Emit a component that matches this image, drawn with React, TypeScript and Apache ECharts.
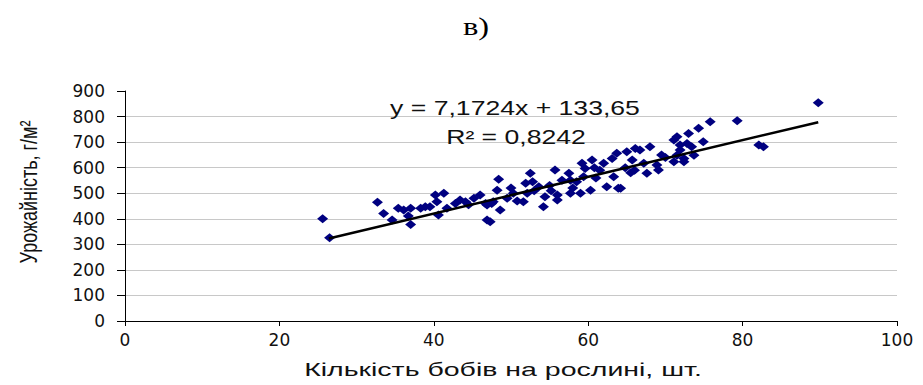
import React, { useEffect, useRef } from "react";
import * as echarts from "echarts";

// Beans per plant (x) and yield, g/m² (y)
const beansPerPlant = [
  25.6, 26.5, 32.7, 33.5, 34.6, 35.4, 36.1, 37.0, 36.7, 37.0,
  38.3, 38.9, 39.5, 40.2, 41.3, 40.4, 40.6, 41.7, 42.8, 43.4,
  44.1, 45.2, 46.0, 46.7, 46.9, 47.5, 48.2, 48.4, 46.9, 47.3,
  47.7, 48.6, 52.5, 51.9, 52.1, 51.6, 50.3, 53.6, 54.4, 54.2,
  55.7, 56.6, 57.5, 58.5, 59.0, 59.6, 59.2, 57.7, 56.0, 60.5,
  59.4, 60.3, 62.0, 63.1, 63.7, 63.3, 62.4, 63.9, 65.0, 65.7,
  66.7, 68.0, 67.6, 68.9, 69.1, 71.1, 71.5, 67.2, 71.5, 71.9,
  73.0, 74.3, 75.8, 79.3, 71.9, 72.8, 73.4, 74.9, 73.7, 71.1,
  72.4, 72.4, 82.1, 89.8, 82.7, 66.1, 64.2, 57.7, 56.0, 49.5,
  50.8, 53.0, 55.0, 58.0, 61.0, 61.5, 64.8, 66.0, 70.0, 44.5,
  50.0, 52.8, 55.2, 60.8, 65.5, 69.5,
];
const yieldValues = [
  400, 326, 465, 421, 395, 441, 434, 441, 411, 378,
  441, 447, 447, 493, 500, 467, 415, 441, 460, 473,
  467, 480, 493, 460, 395, 460, 512, 555, 454, 388,
  467, 434, 578, 539, 500, 467, 500, 525, 486, 447,
  591, 551, 578, 545, 500, 597, 617, 500, 473, 630,
  564, 512, 617, 636, 656, 564, 525, 519, 662, 630,
  669, 682, 578, 610, 591, 708, 649, 617, 721, 689,
  734, 754, 780, 784, 669, 695, 682, 701, 649, 623,
  623, 636, 689, 854, 682, 675, 519, 551, 493, 480,
  470, 510, 530, 520, 560, 590, 600, 590, 640, 455,
  520, 545, 510, 600, 580, 650,
];
// Linear trend line end points (as drawn)
const trendX = [26.4, 89.8];
const trendY = [323, 778];
const xTicks = { min: 0, max: 100, interval: 20 };
const yTicks = { min: 0, max: 900, interval: 100 };

const equationText = "y = 7,1724x + 133,65";
const r2Text = "R² = 0,8242";
const panelLabel = "в)";
const xTitle = "Кількість бобів на рослині, шт.";
const yTitle = "Урожайність, г/м²";

export default function App() {
  const ref = useRef<HTMLDivElement>(null);
  useEffect(() => {
    if (!ref.current) return;
    const chart = echarts.init(ref.current, null, { renderer: "svg" });
    const points = beansPerPlant.map((x, i) => [x, yieldValues[i]]);
    const trend = trendX.map((x, i) => [x, trendY[i]]);
    const gridColors: string[] = [];
    for (let v = yTicks.min; v <= yTicks.max; v += yTicks.interval) {
      gridColors.push(v === yTicks.max ? "rgba(0,0,0,0)" : "#c8c8c8");
    }
    const labelFont = {
      fontFamily: "DejaVu Sans",
      fontSize: 17,
      color: "#111",
    };
    chart.setOption({
      animation: false,
      backgroundColor: "#fff",
      grid: { left: 125, right: 26, top: 91, bottom: 64, containLabel: false },
      xAxis: {
        type: "value",
        min: xTicks.min,
        max: xTicks.max,
        interval: xTicks.interval,
        axisLine: { show: true, onZero: false, lineStyle: { color: "#000", width: 1 } },
        axisTick: { show: true, length: 5, lineStyle: { color: "#000" } },
        axisLabel: { ...labelFont, margin: 10 },
        splitLine: { show: false },
      },
      yAxis: {
        type: "value",
        min: yTicks.min,
        max: yTicks.max,
        interval: yTicks.interval,
        axisLine: { show: true, onZero: false, lineStyle: { color: "#000", width: 1 } },
        axisTick: { show: true, length: 8, lineStyle: { color: "#000" } },
        axisLabel: { ...labelFont, margin: 20 },
        splitLine: { show: true, lineStyle: { color: gridColors, width: 1 } },
      },
      series: [
        {
          type: "scatter",
          data: points,
          symbol: "diamond",
          symbolSize: [11, 9],
          itemStyle: { color: "#000080", opacity: 1 },
          z: 3,
        },
        {
          type: "line",
          data: trend,
          showSymbol: false,
          symbol: "none",
          lineStyle: { color: "#000", width: 2.5 },
          z: 4,
        },
      ],
      graphic: [
        {
          type: "text",
          x: 476,
          y: 26,
          scaleX: 1.25,
          style: {
            text: panelLabel,
            fontFamily: "Liberation Serif",
            fontSize: 26,
            fill: "#000",
            align: "center",
            verticalAlign: "middle",
          },
        },
        {
          type: "text",
          x: 515,
          y: 108,
          scaleX: 1.33,
          z: 10,
          style: {
            text: equationText,
            fontFamily: "Liberation Sans",
            fontSize: 20,
            fill: "#111",
            align: "center",
            verticalAlign: "middle",
          },
        },
        {
          type: "text",
          x: 516,
          y: 137,
          scaleX: 1.33,
          z: 10,
          style: {
            text: r2Text,
            fontFamily: "Liberation Sans",
            fontSize: 20,
            fill: "#111",
            align: "center",
            verticalAlign: "middle",
          },
        },
        {
          type: "text",
          x: 503,
          y: 369,
          scaleX: 1.5,
          style: {
            text: xTitle,
            fontFamily: "Liberation Sans",
            fontSize: 19,
            fill: "#111",
            align: "center",
            verticalAlign: "middle",
          },
        },
        {
          type: "text",
          x: 29,
          y: 192,
          rotation: Math.PI / 2,
          scaleY: 1.3,
          style: {
            text: yTitle,
            fontFamily: "Liberation Sans",
            fontSize: 18,
            fill: "#111",
            align: "center",
            verticalAlign: "middle",
          },
        },
      ],
    });
    return () => chart.dispose();
  }, []);
  return (
    <div
      ref={ref}
      style={{ position: "fixed", left: 0, top: 0, width: 923, height: 385, background: "#fff" }}
    />
  );
}
